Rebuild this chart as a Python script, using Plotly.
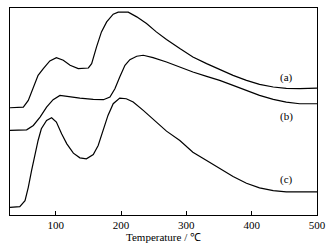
import plotly.graph_objects as go

# Curve (a)
t_a = [30, 50.4, 58, 65.7, 73, 81, 91, 101, 111.6, 122, 134.5, 150, 155, 162.5, 170, 178, 188, 195.7, 211, 224, 239, 254, 269.6, 290, 310, 331, 351, 371.5, 392, 412, 433, 453, 473.5, 500]
y_a_px = [322, 320, 300, 260, 225, 205, 182, 172, 180, 195, 205, 203, 190, 140, 95, 65, 42, 36, 36, 50, 70, 95, 118, 145, 170, 190, 208, 225, 240, 252, 260, 264, 265, 263]
# Curve (b)
t_b = [30, 55.5, 65.7, 76, 86, 96, 106.5, 116.7, 137, 157.5, 173, 183, 190.6, 198, 206, 213.5, 224, 234, 249, 269.6, 290, 310, 331, 351, 371.5, 392, 412, 433, 453, 473.5, 500]
y_b_px = [390, 388, 375, 350, 320, 298, 285, 288, 293, 297, 298, 290, 265, 230, 195, 178, 168, 165, 172, 185, 200, 215, 228, 240, 255, 270, 285, 297, 305, 310, 310]
# Curve (c)
t_c = [30, 45, 53, 58, 63, 68, 73, 78, 86, 93.7, 101, 109, 117, 127, 137, 147, 157.5, 165, 173, 180, 188, 198, 208, 218.6, 234, 249, 269.6, 290, 310, 331, 351, 371.5, 392, 412, 433, 453, 500]
y_c_px = [620, 618, 600, 560, 510, 460, 420, 385, 360, 352, 365, 400, 430, 458, 472, 475, 462, 435, 390, 345, 310, 293, 295, 305, 330, 355, 392, 420, 455, 480, 505, 528, 548, 562, 570, 574, 574]

labels = ["(a)", "(b)", "(c)"]
label_t = [453, 453, 453]
label_px = [230, 347, 537]

x_ticks = [100, 200, 300, 400, 500]

SERIF = "Liberation Serif"

def conv(vals):
    return [(643 - v) / 3 for v in vals]

fig = go.Figure()
for t, y in [(t_a, y_a_px), (t_b, y_b_px), (t_c, y_c_px)]:
    fig.add_trace(go.Scatter(x=t, y=conv(y), mode="lines",
                             line=dict(color="black", width=1.2),
                             showlegend=False, hoverinfo="skip"))

for lab, lt, lp in zip(labels, label_t, conv(label_px)):
    fig.add_annotation(x=lt, y=lp, text=lab, showarrow=False,
                       font=dict(family=SERIF, size=11, color="black"))

fig.update_layout(
    width=330, height=248,
    margin=dict(l=10, r=13, t=8, b=33, pad=0, autoexpand=False),
    paper_bgcolor="white", plot_bgcolor="white",
    font=dict(family=SERIF, size=11, color="black"),
)
fig.update_xaxes(range=[30, 500], tickvals=x_ticks, ticks="inside", ticklen=4,
                 tickcolor="black", showline=True, linecolor="black", linewidth=1.2,
                 mirror=True, showgrid=False, zeroline=False, automargin=False,
                 tickfont=dict(family=SERIF, size=11),
                 title=dict(text="Temperature / ℃", standoff=0,
                            font=dict(family=SERIF, size=11)))
fig.update_yaxes(range=[0, 206.5], showticklabels=False, ticks="",
                 showline=True, linecolor="black", linewidth=1.2, mirror=True,
                 showgrid=False, zeroline=False, automargin=False)

fig.write_html("out.html", config={"displayModeBar": False},
               post_script="document.body.style.margin='0';")
